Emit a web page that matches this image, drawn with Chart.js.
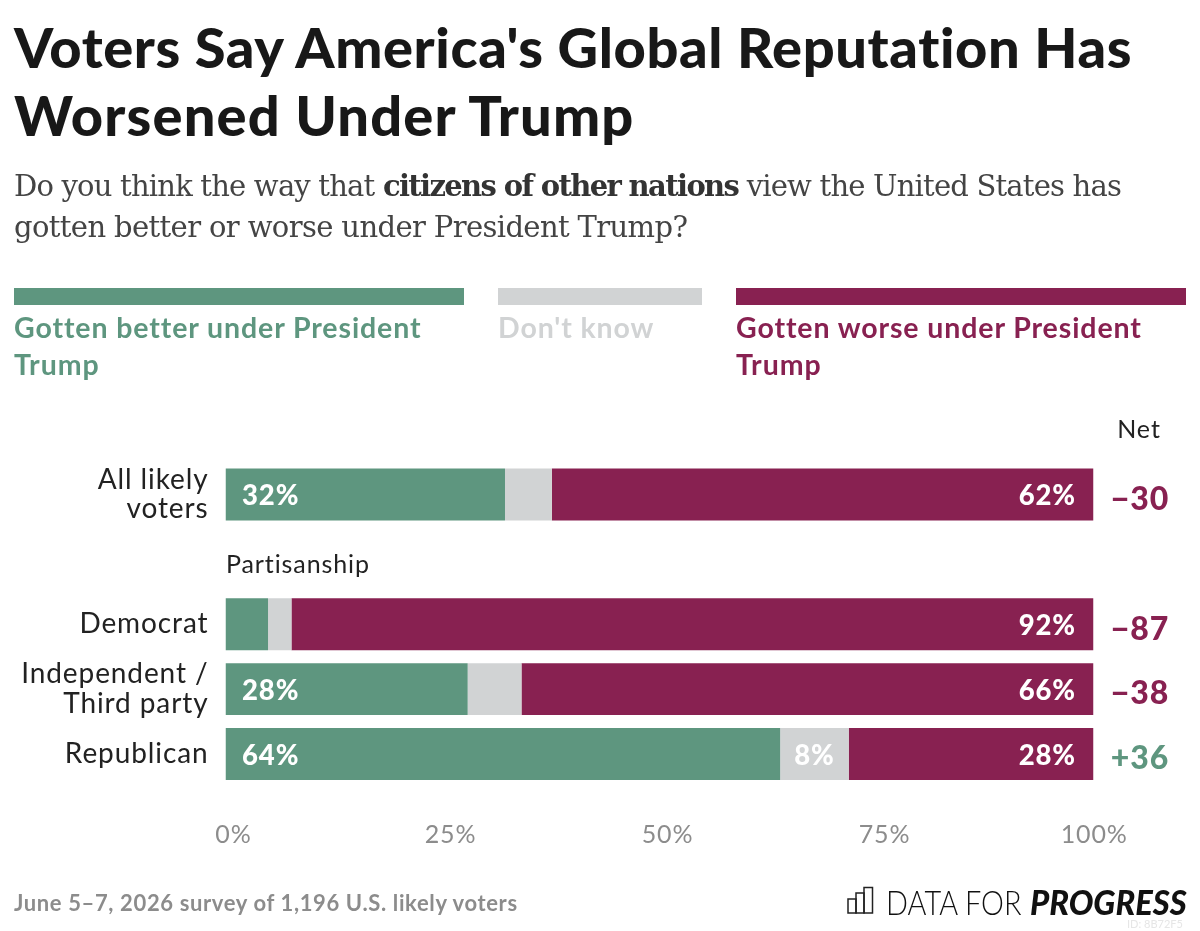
<!DOCTYPE html>
<html><head><meta charset="utf-8">
<script src="https://cdn.jsdelivr.net/npm/chart.js@4"></script>
<style>
html,body{margin:0;padding:0;background:#fff;width:1200px;height:931px;overflow:hidden}
#wrap{position:relative;width:1200px;height:931px}
canvas{position:absolute;left:0;top:0}
.t{position:absolute;white-space:nowrap}
#title{left:14px;top:13px;font:900 56px/68px Lato,sans-serif;color:#181818;letter-spacing:.6px}
#title span{letter-spacing:1.15px}
#sub{left:14px;top:166px;font:400 29px/41px "DejaVu Serif",serif;color:#444;letter-spacing:-.8px}
#sub b{font-weight:700;color:#333;letter-spacing:-1.63px}
#sub span{letter-spacing:-.62px}
.lb{position:absolute;top:288px;height:17px}
.lt{position:absolute;top:309px;font:700 28.5px/37px Lato,sans-serif;letter-spacing:.9px}
#foot{left:14px;top:889px;font:700 22px/28px Lato,sans-serif;color:#8c8c8c;letter-spacing:.63px}
.logo{top:882px;font:300 34px/40px Lato,sans-serif;color:#111;transform-origin:left center}
#logo1{left:886px;transform:scaleX(.85)}
#logo2{left:1030px;font-weight:900;font-style:italic;transform:scaleX(.96)}
#id{left:1127px;top:917px;font:400 11px/14px Lato,sans-serif;color:#e6e6e6}
</style></head><body>
<div id="wrap">
<canvas id="c" width="1200" height="931"></canvas>
<div class="t" id="title">Voters Say America's Global Reputation Has<br><span>Worsened Under Trump</span></div>
<div class="t" id="sub">Do you think the way that <b>citizens of other nations</b> view the United States has<br><span>gotten better or worse under President Trump?</span></div>
<div id="legend"></div>
<div class="t" id="foot">June 5–7, 2026 survey of 1,196 U.S. likely voters</div>
<svg style="position:absolute;left:847px;top:886px" width="27" height="28" viewBox="0 0 27 28" fill="none" stroke="#222" stroke-width="1.5"><rect x="1" y="13" width="8" height="14"/><rect x="9" y="7" width="8" height="20"/><rect x="17" y="1.5" width="8.5" height="25.5"/></svg>
<div class="t logo" id="logo1">DATA FOR</div>
<div class="t logo" id="logo2">PROGRESS</div>
<div class="t" id="id">ID: 8B72F5</div>
</div>
<script>
const categories = [["All likely","voters"], "", "Democrat", ["Independent /","Third party"], "Republican"];
const better = [32.2, null, 4.9, 27.9, 63.9];
const dontKnow = [5.4, null, 2.7, 6.2, 7.9];
const worse = [62.4, null, 92.4, 65.9, 28.2];
const betterLabels = ["32%", null, null, "28%", "64%"];
const dontKnowLabels = [null, null, null, null, "8%"];
const worseLabels = ["62%", null, "92%", "66%", "28%"];
const netLabels = ["−30", null, "−87", "−38", "+36"];
const netValues = [-30, null, -87, -38, 36];
const seriesNames = ["Gotten better under President Trump", "Don't know", "Gotten worse under President Trump"];
const legendLines = [["Gotten better under President","Trump"],["Don't know"],["Gotten worse under President","Trump"]];
const tickValues = [0, 25, 50, 75, 100];
const GREEN = "#5e967f", GRAY = "#d1d3d4", PURPLE = "#882151";
const colors = [GREEN, GRAY, PURPLE];

const legendX = [[14,450],[498,204],[736,450]];
const lg = document.getElementById("legend");
legendLines.forEach((lines,i)=>{
  const b = document.createElement("div"); b.className="lb";
  b.style.cssText = `left:${legendX[i][0]}px;width:${legendX[i][1]}px;background:${colors[i]}`;
  const t = document.createElement("div"); t.className="lt";
  t.style.cssText = `left:${legendX[i][0]}px;color:${colors[i]};white-space:nowrap`;
  t.innerHTML = lines.join("<br>");
  lg.append(b,t);
});

const FONT = "Lato, sans-serif";
const SPACING = "0.9px";
const marks = {
  id:"marks",
  beforeLayout(ch){ ch.ctx.letterSpacing = SPACING; },
  beforeDraw(ch){ ch.ctx.letterSpacing = SPACING; },
  afterDatasetsDraw(ch){
    const c = ch.ctx, y = ch.scales.y;
    c.save();
    c.textBaseline = "middle";
    c.fillStyle = "#fff";
    c.font = `900 27.5px ${FONT}`;
    const metas = [0,1,2].map(i=>ch.getDatasetMeta(i));
    const labels = [betterLabels, dontKnowLabels, worseLabels];
    labels.forEach((arr,d)=>arr.forEach((s,i)=>{
      if(!s) return;
      const el = metas[d].data[i];
      if(d===0){c.textAlign="left"; c.fillText(s, el.base+16.5, el.y+2);}
      else if(d===1){c.textAlign="center"; c.fillText(s, (el.base+el.x)/2, el.y+2);}
      else {c.textAlign="right"; c.fillText(s, el.x-17.5, el.y+2);}
    }));
    c.font = `900 32px ${FONT}`;
    c.textAlign = "center";
    netLabels.forEach((s,i)=>{
      if(!s) return;
      c.fillStyle = netValues[i] >= 0 ? GREEN : PURPLE;
      c.fillText(s, 1140, y.getPixelForValue(i)+5);
    });
    c.fillStyle = "#222";
    c.font = `400 25px ${FONT}`;
    c.fillText("Net", 1139, 430);
    c.textAlign = "left";
    c.fillText("Partisanship", 226, y.getPixelForValue(1)+6);
    c.restore();
  }
};

new Chart(document.getElementById("c"),{
  type:"bar",
  data:{labels:categories,datasets:[
    {label:seriesNames[0],data:better,backgroundColor:GREEN},
    {label:seriesNames[1],data:dontKnow,backgroundColor:GRAY},
    {label:seriesNames[2],data:worse,backgroundColor:PURPLE}
  ]},
  options:{
    indexAxis:"y",responsive:false,animation:false,devicePixelRatio:1,
    layout:{padding:{left:0,right:106.5,top:462,bottom:0}},
    plugins:{legend:{display:false},tooltip:{enabled:false},title:{display:false}},
    datasets:{bar:{barPercentage:.8,categoryPercentage:1,borderWidth:0}},
    scales:{
      x:{stacked:true,min:0,max:100,
        afterBuildTicks(s){s.ticks = tickValues.map(v=>({value:v}));},
        grid:{display:false},border:{display:false},
        afterFit(s){s.height = 144.5;},
        ticks:{autoSkip:false,maxRotation:0,minRotation:0,labelOffset:8,padding:25,color:"#8c8c8c",
          font:{family:FONT,size:25,weight:"400"},
          callback:v=>v===100?"100%\u00a0\u00a0":v+"%"}},
      y:{stacked:true,
        grid:{display:false},border:{display:false},
        afterFit(s){s.width = 225.5;},
        ticks:{autoSkip:false,padding:9,color:"#222",
          font:{family:FONT,size:28,weight:"400",lineHeight:1.07}}}
    }
  },
  plugins:[marks]
});
</script>
</body></html>
